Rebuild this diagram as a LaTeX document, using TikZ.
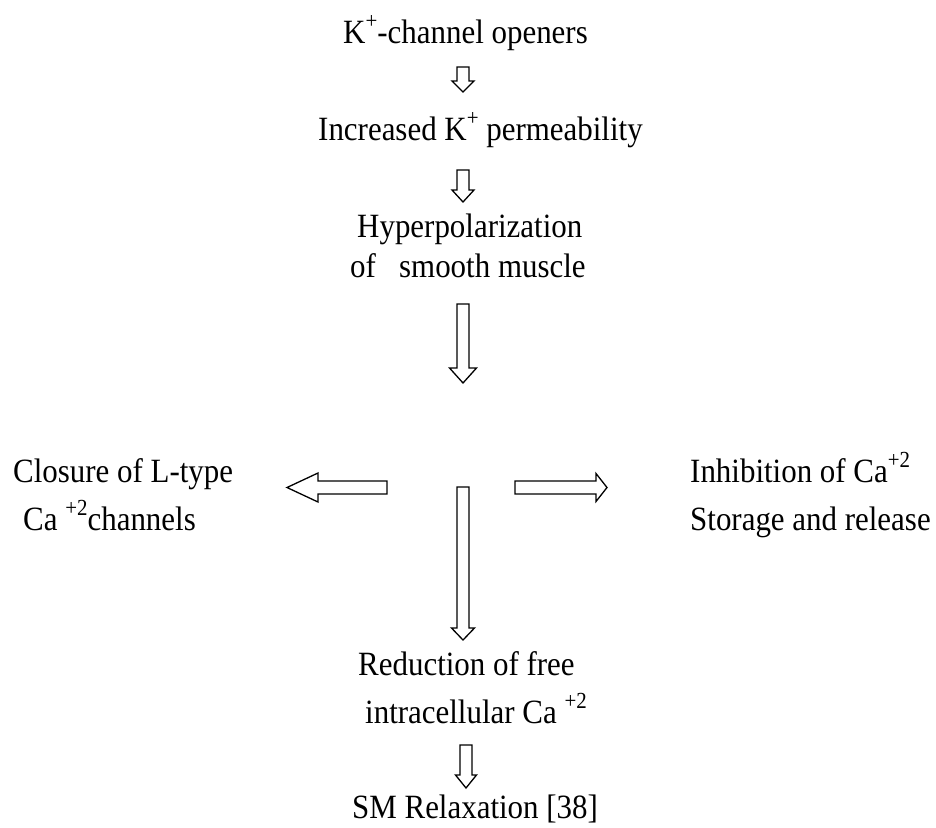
\documentclass[tikz,border=0pt]{standalone}
\usepackage{fontspec}
\setmainfont[FakeStretch=0.91]{Liberation Serif}
\tikzset{
  txt/.style={font=\fontsize{34}{40}\selectfont, inner sep=0pt, anchor=base west},
  blk/.style={draw=black, line width=1.3pt, fill=white, line join=miter}
}
% vertical block arrow: x, ytop, yheadstart, ytip, shaft half-width, head half-width
\newcommand\blkdown[6]{%
  \draw[blk] (#1-#5,#2) -- (#1+#5,#2) -- (#1+#5,#3) -- (#1+#6,#3) -- (#1,#4)
    -- (#1-#6,#3) -- (#1-#5,#3) -- cycle;}
% horizontal block arrow: y, xstart, xheadstart, xtip, shaft half-height, head half-height
\newcommand\blkhor[6]{%
  \draw[blk] (#2,#1-#5) -- (#2,#1+#5) -- (#3,#1+#5) -- (#3,#1+#6) -- (#4,#1)
    -- (#3,#1-#6) -- (#3,#1-#5) -- cycle;}
\newcommand\sups[1]{\raisebox{0.42em}{\fontsize{23}{23}\selectfont #1}}
\begin{document}
\begin{tikzpicture}[x=1pt,y=-1pt]
\path[use as bounding box, fill=white] (0,0) rectangle (936,827);

\node[txt] (k)    at (343,43)  {K\sups{+}-channel openers};
\node[txt] (inc)  at (318,140) {Increased K\sups{+} permeability};
\node[txt] (hyp1) at (357,237) {Hyperpolarization};
\node[txt] (hyp2) at (350,277) {of\ \ \ smooth muscle};
\node[txt] (clo1) at (13,482)  {Closure of L-type};
\node[txt] (clo2) at (23,530)  {Ca \sups{+2}channels};
\node[txt] (inh1) at (690,482) {Inhibition of Ca\sups{+2}};
\node[txt] (inh2) at (690,530) {Storage and release};
\node[txt] (red1) at (358,675) {Reduction of free};
\node[txt] (red2) at (365,723) {intracellular Ca \sups{+2}};
\node[txt] (sm)   at (352,818) {SM Relaxation [38]};

\blkdown{463}{67}{81}{92}{6}{11}
\blkdown{463}{170}{190}{202}{6}{11}
\blkdown{463}{304}{368}{383}{6}{13.5}
\blkdown{463}{487}{628}{640}{6}{11.5}
\blkdown{466}{745}{775}{788}{6}{10.5}
\blkhor{487.5}{387}{318}{287}{6.5}{14.5}
\blkhor{487.5}{515}{596}{607}{6.5}{14}
\end{tikzpicture}
\end{document}
